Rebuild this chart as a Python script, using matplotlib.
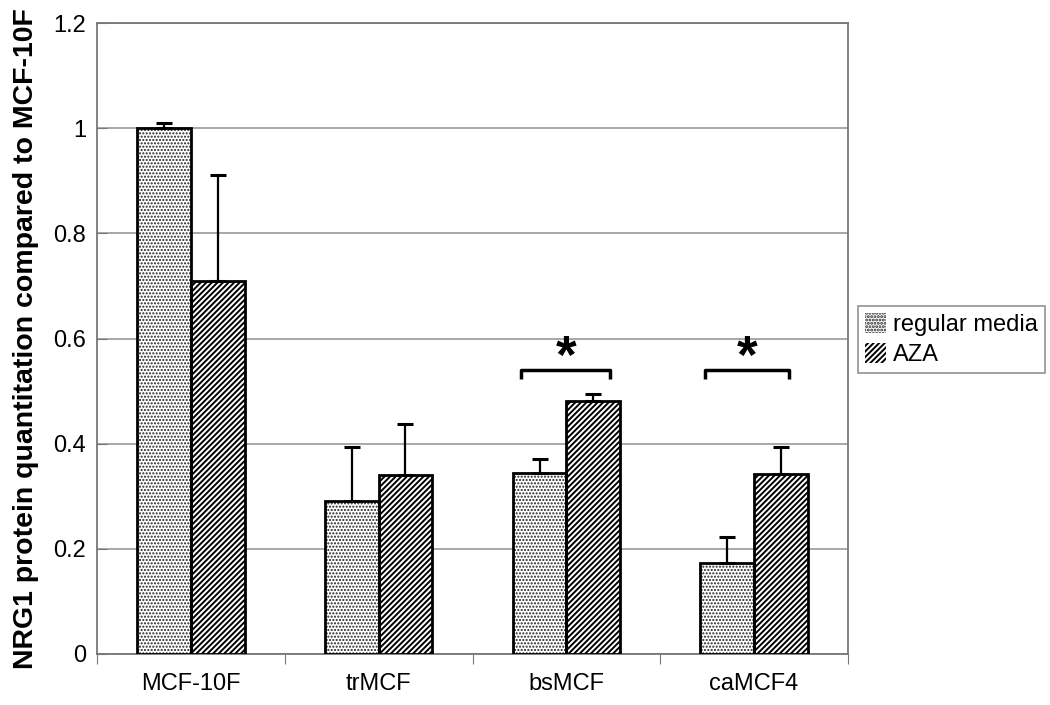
import numpy as np
import matplotlib
matplotlib.use('Agg')
import matplotlib.pyplot as plt

plt.rcParams['font.family'] = ['Liberation Sans', 'DejaVu Sans']
plt.rcParams['hatch.linewidth'] = 1.4

categories = ['MCF-10F', 'trMCF', 'bsMCF', 'caMCF4']
regular = [1.0, 0.291, 0.344, 0.174]
regular_err = [0.01, 0.103, 0.027, 0.049]
aza = [0.71, 0.340, 0.481, 0.342]
aza_err = [0.201, 0.097, 0.013, 0.051]
series_names = ['regular media', 'AZA']

# significance brackets: (category index, left offset, right offset)
brackets = [(2, -0.24, 0.235), (3, -0.26, 0.186)]
bracket_y = 0.540
bracket_drop = 0.017
star_y = 0.562

fig = plt.figure(figsize=(10.5, 7.05), dpi=100)
ax = fig.add_axes([97/1050, 51/705, 751/1050, 631/705])

x = np.arange(len(categories))
w = 1 / 3.5

# hatched fills first, black outlines on top
b1 = ax.bar(x - w/2, regular, w, color='white', edgecolor='#222222', linewidth=0,
            hatch='.....', label=series_names[0], zorder=3)
b2 = ax.bar(x + w/2, aza, w, color='white', edgecolor='black', linewidth=0,
            hatch='//////', label=series_names[1], zorder=3)
for b in b1:
    if hasattr(b, 'set_hatch_linewidth'):
        b.set_hatch_linewidth(1.0)
ax.bar(x - w/2, regular, w, fill=False, edgecolor='black', linewidth=2, zorder=3.5)
ax.bar(x + w/2, aza, w, fill=False, edgecolor='black', linewidth=2, zorder=3.5)

ax.errorbar(x - w/2, regular, yerr=[np.zeros(4), regular_err], fmt='none',
            ecolor='black', elinewidth=1.6, capsize=6, capthick=2.2, zorder=4)
ax.errorbar(x + w/2, aza, yerr=[np.zeros(4), aza_err], fmt='none',
            ecolor='black', elinewidth=1.6, capsize=6, capthick=2.2, zorder=4)

for ci, lo, hi in brackets:
    ax.plot([ci + lo, ci + lo, ci + hi, ci + hi],
            [bracket_y - bracket_drop, bracket_y, bracket_y, bracket_y - bracket_drop],
            color='black', lw=2.5, zorder=5, solid_capstyle='butt')
    ax.text(ci + (lo + hi) / 2, star_y, '*', ha='center', va='center',
            fontsize=38, fontweight='bold', zorder=5)

ax.set_xlim(-0.5, 3.5)
ax.set_ylim(0, 1.2)
ax.set_yticks(np.arange(0, 1.21, 0.2))
ax.set_yticklabels(['0', '0.2', '0.4', '0.6', '0.8', '1', '1.2'])
ax.yaxis.grid(True, color='#999999', lw=1.2, zorder=0)
ax.set_axisbelow(True)

ax.set_xticks(np.arange(-0.5, 3.6, 1.0))
ax.set_xticklabels([])
ax.set_xticks(x, minor=True)
ax.set_xticklabels(categories, minor=True)
ax.tick_params(axis='x', which='minor', length=0, pad=14, labelsize=17)
ax.tick_params(axis='x', which='major', length=7, color='#777777', direction='out')
ax.tick_params(axis='y', length=7, color='#777777', direction='in', labelsize=17, pad=8)
for s in ax.spines.values():
    s.set_color('#777777')
    s.set_linewidth(1.3)

ax.set_ylabel('NRG1 protein quantitation compared to MCF-10F', fontsize=20.5,
              fontweight='bold', labelpad=10)

leg = fig.legend(handles=[b1, b2], loc='upper left',
                 bbox_to_anchor=(858/1050, (705-306)/705), fontsize=17,
                 frameon=True, fancybox=False, edgecolor='#777777',
                 handlelength=0.9, handleheight=0.9, handletextpad=0.3,
                 borderpad=0.3, labelspacing=0.3, borderaxespad=0)
leg.get_frame().set_linewidth(1.2)

fig.savefig('out.png', dpi=100)
